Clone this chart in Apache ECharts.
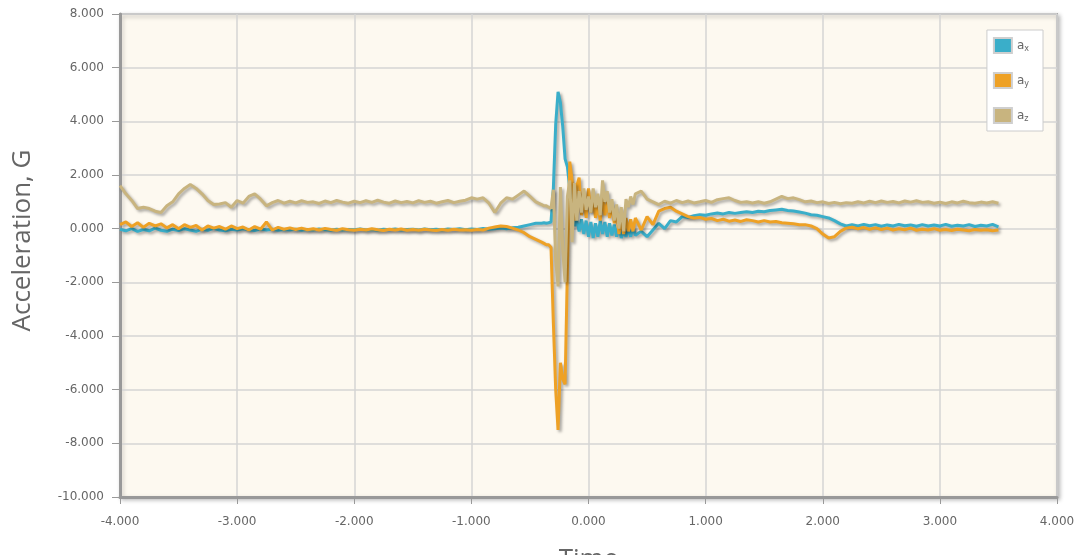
<!DOCTYPE html>
<html>
<head>
<meta charset="utf-8">
<script src="https://cdn.jsdelivr.net/npm/echarts@6/dist/echarts.min.js"></script>
<style>
html,body{margin:0;padding:0;background:#fff;}
#chart{width:1080px;height:555px;}
</style>
</head>
<body>
<div id="chart"></div>
<script>
// Time (s)
const time = [
  -4.00,-3.95,-3.90,-3.85,-3.80,-3.75,-3.70,-3.65,-3.60,-3.55,
  -3.50,-3.45,-3.40,-3.35,-3.30,-3.25,-3.20,-3.15,-3.10,-3.05,
  -3.00,-2.95,-2.90,-2.85,-2.80,-2.75,-2.70,-2.65,-2.60,-2.55,
  -2.50,-2.45,-2.40,-2.35,-2.30,-2.25,-2.20,-2.15,-2.10,-2.05,
  -2.00,-1.95,-1.90,-1.85,-1.80,-1.75,-1.70,-1.65,-1.60,-1.55,
  -1.50,-1.45,-1.40,-1.35,-1.30,-1.25,-1.20,-1.15,-1.10,-1.05,
  -1.00,-0.95,-0.90,-0.85,-0.80,-0.75,-0.70,-0.65,-0.60,-0.55,
  -0.50,-0.45,-0.40,
  -0.38,-0.36,-0.34,-0.32,-0.30,-0.28,-0.26,-0.24,-0.22,-0.20,
  -0.18,-0.16,-0.14,-0.12,-0.10,-0.08,-0.06,-0.04,-0.02,0.00,
  0.02,0.04,0.06,0.08,0.10,0.12,0.14,0.16,0.18,0.20,
  0.22,0.24,0.26,0.28,0.30,0.32,0.34,0.36,0.38,0.40,
  0.45,0.50,0.55,0.60,0.65,0.70,0.75,0.80,0.85,0.90,
  0.95,1.00,1.05,1.10,1.15,1.20,1.25,1.30,1.35,1.40,
  1.45,1.50,1.55,1.60,1.65,1.70,1.75,1.80,1.85,1.90,
  1.95,2.00,2.05,2.10,2.15,2.20,2.25,2.30,2.35,2.40,
  2.45,2.50,2.55,2.60,2.65,2.70,2.75,2.80,2.85,2.90,
  2.95,3.00,3.05,3.10,3.15,3.20,3.25,3.30,3.35,3.40,
  3.45,3.50
];

// a_x (G)
const ax = [
  -0.02,-0.08,0.00,-0.10,-0.03,-0.08,0.02,-0.06,-0.10,-0.02,
  -0.07,0.00,-0.05,-0.10,-0.02,-0.06,0.01,-0.05,-0.08,-0.02,
  -0.05,0.00,-0.04,-0.07,-0.01,-0.05,-0.02,-0.06,-0.03,-0.05,
  -0.02,-0.06,-0.03,-0.05,-0.01,-0.04,-0.06,-0.02,-0.05,-0.03,
  -0.04,-0.01,-0.05,-0.03,-0.06,-0.02,-0.04,-0.01,-0.05,-0.03,
  -0.02,-0.05,-0.01,-0.04,-0.02,-0.05,-0.01,-0.03,0.00,-0.04,
  -0.01,-0.03,0.01,-0.02,0.00,0.02,0.00,0.03,0.05,0.10,
  0.15,0.20,0.20,
  0.22,0.20,0.22,0.25,1.50,3.90,5.10,4.70,3.80,2.60,
  2.30,1.50,0.60,0.10,0.30,-0.10,0.35,-0.20,0.30,-0.30,
  0.25,-0.35,0.20,-0.30,0.30,-0.20,0.25,-0.30,0.20,-0.25,
  0.15,-0.30,0.10,-0.35,-0.10,-0.30,0.00,-0.30,0.05,-0.25,
  -0.10,-0.30,-0.05,0.20,0.00,0.30,0.25,0.45,0.42,0.48,
  0.52,0.50,0.55,0.58,0.55,0.60,0.57,0.60,0.63,0.60,
  0.65,0.63,0.68,0.70,0.72,0.68,0.66,0.62,0.58,0.52,
  0.50,0.45,0.40,0.30,0.18,0.10,0.15,0.10,0.16,0.11,
  0.15,0.09,0.14,0.10,0.16,0.11,0.14,0.09,0.15,0.10,
  0.14,0.10,0.16,0.09,0.13,0.10,0.15,0.08,0.13,0.10,
  0.16,0.07
];

// a_y (G)
const ay = [
  0.15,0.25,0.08,0.22,0.05,0.20,0.10,0.18,0.03,0.15,
  0.00,0.15,0.05,0.12,-0.05,0.10,0.02,0.08,-0.02,0.10,
  0.00,0.06,-0.05,0.08,-0.02,0.25,-0.05,0.05,-0.02,0.03,
  -0.03,0.02,-0.04,0.00,-0.05,0.01,-0.03,-0.06,0.00,-0.04,
  -0.06,-0.02,-0.05,0.00,-0.04,-0.07,-0.02,-0.05,-0.01,-0.06,
  -0.03,-0.06,-0.02,-0.05,-0.07,-0.03,-0.06,-0.02,-0.05,-0.04,
  -0.06,-0.03,-0.05,0.02,0.06,0.10,0.08,0.02,-0.05,-0.15,
  -0.30,-0.40,-0.50,
  -0.55,-0.60,-0.60,-0.70,-3.50,-6.00,-7.50,-5.00,-5.60,-5.80,
  -1.50,2.50,1.80,0.30,1.60,1.90,0.50,1.20,0.40,1.50,
  0.60,1.10,0.40,0.90,0.30,1.20,0.50,1.00,0.40,0.90,
  0.20,0.60,-0.20,0.40,-0.20,0.40,-0.10,0.35,-0.10,0.40,
  -0.05,0.45,0.15,0.65,0.75,0.80,0.65,0.55,0.45,0.40,
  0.42,0.35,0.38,0.30,0.35,0.28,0.32,0.27,0.33,0.30,
  0.25,0.30,0.25,0.27,0.22,0.20,0.18,0.15,0.15,0.10,
  0.00,-0.20,-0.35,-0.30,-0.10,0.02,0.05,0.00,0.04,-0.02,
  0.03,-0.03,0.02,-0.05,0.00,-0.04,0.02,-0.06,-0.02,-0.05,
  0.00,-0.06,-0.03,-0.07,-0.02,-0.05,-0.08,-0.03,-0.06,-0.04,
  -0.08,-0.05
];

// a_z (G)
const az = [
  1.60,1.30,1.05,0.75,0.80,0.75,0.65,0.60,0.85,1.00,
  1.30,1.50,1.65,1.50,1.30,1.05,0.90,0.92,0.97,0.80,
  1.05,0.95,1.20,1.30,1.10,0.85,0.97,1.05,0.95,1.02,
  0.96,1.04,0.98,1.00,0.94,1.03,0.97,1.05,0.99,0.95,
  1.02,0.97,1.04,0.98,1.06,0.99,0.95,1.03,0.97,1.01,
  0.96,1.04,0.98,1.02,0.95,1.00,1.05,0.97,1.02,1.06,
  1.15,1.10,1.15,0.95,0.60,0.95,1.15,1.10,1.25,1.40,
  1.20,1.00,0.90,
  0.85,0.85,0.80,0.75,1.45,-1.20,-2.15,1.55,-0.80,-2.00,
  1.20,1.80,-0.50,1.70,0.30,1.40,0.60,1.50,0.70,1.20,
  0.60,1.50,0.80,1.30,0.50,1.80,1.00,1.40,0.60,1.10,
  0.30,0.90,0.00,0.80,-0.10,1.10,0.80,1.20,0.90,1.30,
  1.40,1.10,1.00,0.90,1.02,0.95,1.05,0.97,1.03,0.96,
  1.00,1.05,0.98,1.08,1.12,1.15,1.05,0.98,1.00,0.96,
  1.00,0.95,1.00,1.10,1.20,1.12,1.15,1.08,1.00,1.03,
  0.97,1.00,0.94,0.98,0.93,0.97,0.95,1.00,0.96,1.02,
  0.97,1.03,0.98,1.01,0.96,1.03,0.99,1.04,0.98,1.00,
  0.95,0.99,0.94,1.00,0.96,1.02,0.97,0.95,0.99,0.96,
  1.00,0.95
];

const seriesNames = ['ax', 'ay', 'az'];
const seriesSubs = ['x', 'y', 'z'];
const seriesColors = ['#3aaec9', '#eea125', '#c8b47f'];
const seriesValues = [ax, ay, az];

const yTicks = {min: -10, max: 8, interval: 2};
const xTicks = {min: -4, max: 4, interval: 1};

const FONT = 'DejaVu Sans';
const TITLE_FONT = 'Open Sans';

const chart = echarts.init(document.getElementById('chart'), null, {renderer: 'canvas'});

const lineShadow = {shadowColor: 'rgba(0,0,0,0.35)', shadowBlur: 3, shadowOffsetX: 2, shadowOffsetY: 2};

chart.setOption({
  animation: false,
  backgroundColor: '#ffffff',
  grid: {
    left: 120, right: 23, top: 14, bottom: 58,
    outerBoundsMode: 'none',
    containLabel: false,
    show: true,
    backgroundColor: '#fdf9f0',
    borderColor: '#a9a9a9',
    borderWidth: 2,
    shadowColor: 'rgba(0,0,0,0.25)',
    shadowBlur: 4,
    shadowOffsetX: 2,
    shadowOffsetY: 2
  },
  legend: {
    orient: 'vertical',
    right: 37,
    top: 30,
    icon: 'rect',
    itemWidth: 18,
    itemHeight: 15,
    itemGap: 18,
    padding: [7, 14, 7, 6],
    backgroundColor: '#ffffff',
    borderColor: '#cccccc',
    borderWidth: 1,
    itemStyle: {borderColor: '#cfcfcf', borderWidth: 2},
    formatter: function (name) {
      const i = seriesNames.indexOf(name);
      return 'a{s|' + seriesSubs[i] + '}';
    },
    textStyle: {
      fontFamily: FONT, fontSize: 12, color: '#666',
      rich: {s: {fontFamily: FONT, fontSize: 8, color: '#666', padding: [6, 0, 0, 0]}}
    },
    data: seriesNames
  },
  xAxis: {
    type: 'value',
    min: xTicks.min, max: xTicks.max, interval: xTicks.interval,
    name: 'Time',
    nameLocation: 'middle',
    nameGap: 50,
    nameTextStyle: {fontFamily: TITLE_FONT, fontSize: 26, color: '#666'},
    axisLine: {show: true, onZero: false, lineStyle: {color: '#999', width: 3}},
    axisTick: {show: true, length: 7, lineStyle: {color: '#999', width: 1}},
    axisLabel: {
      fontFamily: FONT, fontSize: 12, color: '#666', margin: 19,
      formatter: v => v.toFixed(3)
    },
    splitLine: {show: true, lineStyle: {color: '#d4d4d4', width: 1.5}}
  },
  yAxis: {
    type: 'value',
    min: yTicks.min, max: yTicks.max, interval: yTicks.interval,
    name: 'Acceleration, G',
    nameLocation: 'middle',
    nameGap: 84,
    nameRotate: 90,
    nameTextStyle: {fontFamily: TITLE_FONT, fontSize: 26, color: '#666', padding: [0, 0, 0, 30]},
    axisLine: {show: true, onZero: false, lineStyle: {color: '#999', width: 3}},
    axisTick: {show: true, length: 8, lineStyle: {color: '#999', width: 1}},
    axisLabel: {
      fontFamily: FONT, fontSize: 12, color: '#666', margin: 16,
      formatter: v => v.toFixed(3)
    },
    splitLine: {show: true, lineStyle: {color: '#d4d4d4', width: 1.5}}
  },
  series: seriesNames.map((n, i) => ({
    name: n,
    type: 'line',
    symbol: 'none',
    color: seriesColors[i],
    lineStyle: Object.assign({width: 3, color: seriesColors[i]}, lineShadow),
    itemStyle: {color: seriesColors[i]},
    data: time.map((t, k) => [t, seriesValues[i][k]])
  }))
});
</script>
</body>
</html>
